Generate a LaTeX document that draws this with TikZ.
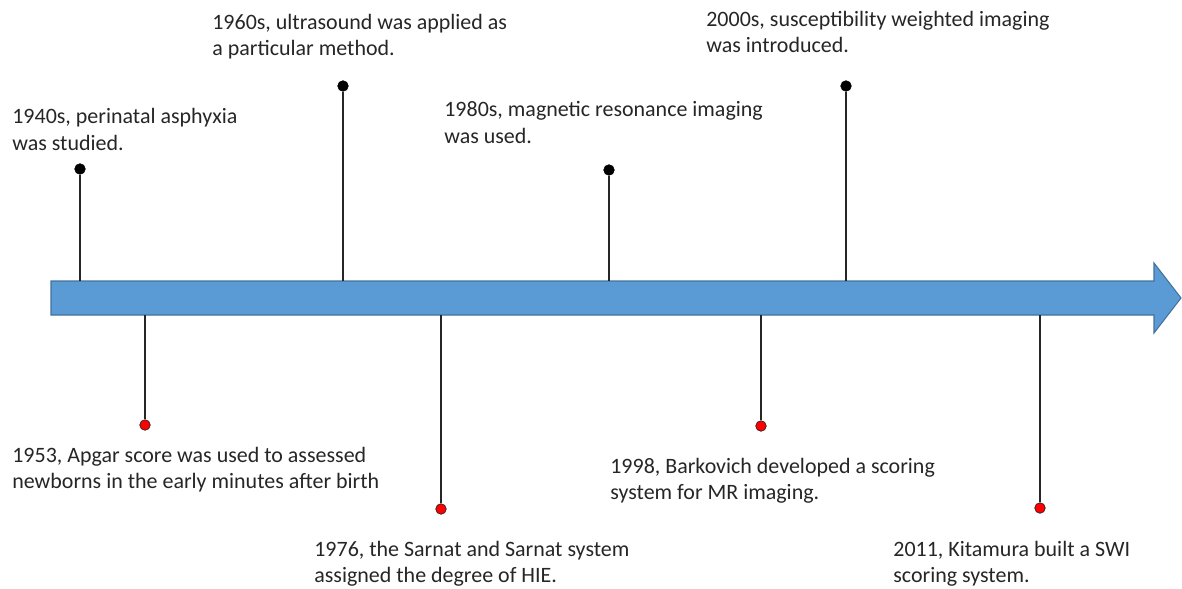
\documentclass[tikz,border=0pt]{standalone}
\usepackage{fontspec}
\setmainfont{Carlito}
\usepackage{xcolor}
\usepackage{tikz}
\definecolor{ink}{HTML}{262626}
\definecolor{barfill}{HTML}{5B9BD5}
\definecolor{baredge}{HTML}{41719C}
\definecolor{reddot}{HTML}{FF0000}
\tikzset{
  bar/.style={fill=barfill, draw=baredge, line width=0.6pt},
  stem/.style={draw=ink, line width=0.8pt},
  uppt/.style={circle, fill=black, draw=black, inner sep=0pt, minimum size=6pt},
  downpt/.style={circle, fill=reddot, draw=ink, line width=0.4pt, inner sep=0pt, minimum size=6pt},
  lab/.style={text=ink, font=\fontsize{12.5pt}{14.8pt}\selectfont, align=left, anchor=base west, inner sep=0pt},
}

\begin{document}
\begin{tikzpicture}[x=0.02cm, y=-0.02cm]
  \useasboundingbox (0,0) rectangle (1182,588);
  % timeline bar
  \draw[bar] (51,281) -- (1154,281) -- (1154,263) -- (1181,298)
    -- (1154,333) -- (1154,315) -- (51,315) -- cycle;
  % points above the bar
  \coordinate (a1) at (80,281);
  \coordinate (a2) at (343,281);
  \coordinate (a3) at (609,281);
  \coordinate (a4) at (846,281);
  \node[uppt] (p1) at (80,169) {};
  \node[uppt] (p2) at (343,86) {};
  \node[uppt] (p3) at (609,170) {};
  \node[uppt] (p4) at (846,86) {};
  \draw[stem] (p1) -- (a1);
  \draw[stem] (p2) -- (a2);
  \draw[stem] (p3) -- (a3);
  \draw[stem] (p4) -- (a4);
  % points below the bar
  \coordinate (b1) at (145,315);
  \coordinate (b2) at (441,315);
  \coordinate (b3) at (761,315);
  \coordinate (b4) at (1040,315);
  \node[downpt] (q1) at (145,425) {};
  \node[downpt] (q2) at (441,509) {};
  \node[downpt] (q3) at (761,426) {};
  \node[downpt] (q4) at (1040,508) {};
  \draw[stem] (b1) -- (q1);
  \draw[stem] (b2) -- (q2);
  \draw[stem] (b3) -- (q3);
  \draw[stem] (b4) -- (q4);
  % labels (anchored on the last line)
  \node[lab] (t1) at (12,150) {1940s, perinatal asphyxia\\was studied.};
  \node[lab] (t2) at (212,56) {1960s, ultrasound was applied as\\a particular method.};
  \node[lab] (t3) at (444,143) {1980s, magnetic resonance imaging\\was used.};
  \node[lab] (t4) at (706,53) {2000s, susceptibility weighted imaging\\was introduced.};
  \node[lab] (t5) at (12,488) {1953, Apgar score was used to assessed\\newborns in the early minutes after birth};
  \node[lab] (t6) at (314,582) {1976, the Sarnat and Sarnat system\\assigned the degree of HIE.};
  \node[lab] (t7) at (610,499) {1998, Barkovich developed a scoring\\system for MR imaging.};
  \node[lab] (t8) at (893,582) {2011, Kitamura built a SWI\\scoring system.};
\end{tikzpicture}
\end{document}
